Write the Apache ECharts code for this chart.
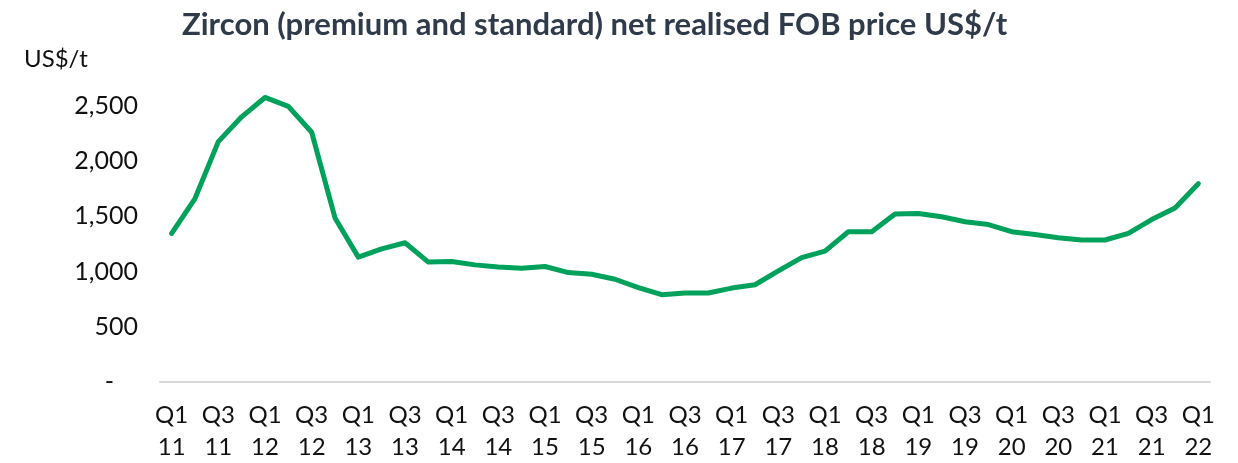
<!DOCTYPE html>
<html>
<head>
<meta charset="UTF-8">
<title>Zircon price</title>
<script src="https://cdn.jsdelivr.net/npm/echarts@6/dist/echarts.min.js"></script>
<style>
  html, body { margin: 0; padding: 0; background: #fff; }
  #main { width: 1238px; height: 463px; }
</style>
</head>
<body>
<div id="main"></div>
<script>
// quarters Q1 2011 .. Q1 2022
var quarters = [
  'Q1 11','Q2 11','Q3 11','Q4 11','Q1 12','Q2 12','Q3 12','Q4 12',
  'Q1 13','Q2 13','Q3 13','Q4 13','Q1 14','Q2 14','Q3 14','Q4 14',
  'Q1 15','Q2 15','Q3 15','Q4 15','Q1 16','Q2 16','Q3 16','Q4 16',
  'Q1 17','Q2 17','Q3 17','Q4 17','Q1 18','Q2 18','Q3 18','Q4 18',
  'Q1 19','Q2 19','Q3 19','Q4 19','Q1 20','Q2 20','Q3 20','Q4 20',
  'Q1 21','Q2 21','Q3 21','Q4 21','Q1 22'
];
// net realised FOB price, US$/t
var price = [
  1345, 1660, 2175, 2400, 2575, 2495, 2260, 1485,
  1130, 1205, 1260, 1085, 1090, 1060, 1040, 1030,
  1045, 990, 975, 930, 855, 790, 805, 805,
  850, 880, 1005, 1125, 1185, 1360, 1360, 1520,
  1525, 1495, 1450, 1425, 1360, 1335, 1305, 1285,
  1285, 1345, 1470, 1575, 1795
];
var yTicks = [0, 500, 1000, 1500, 2000, 2500];

var font = 'Lato, "Open Sans", sans-serif';
var chart = echarts.init(document.getElementById('main'));

chart.setOption({
  animation: false,
  title: [{
    text: 'Zircon (premium and standard) net realised FOB price US$/t',
    left: 177,
    top: 4,
    textStyle: { fontFamily: font, fontSize: 31, fontWeight: 'bold', color: '#2f3b4b' }
  }, {
    text: 'US$/t',
    left: 19,
    top: 42,
    textStyle: { fontFamily: font, fontSize: 24, fontWeight: 'normal', color: '#111' }
  }],
  grid: { left: 160, right: 28, top: 50.5, bottom: 79.5 },
  xAxis: {
    type: 'category',
    data: quarters,
    boundaryGap: true,
    axisLine: { lineStyle: { color: '#d9d9d9', width: 2 } },
    axisTick: { show: false },
    axisLabel: {
      interval: 1,
      margin: 17,
      fontFamily: font,
      fontSize: 24,
      lineHeight: 32,
      color: '#111',
      formatter: function (v) { return v.replace(' ', '\n'); }
    }
  },
  yAxis: {
    type: 'value',
    min: 0,
    max: 3000,
    interval: 500,
    splitLine: { show: false },
    axisLine: { show: false },
    axisTick: { show: false },
    axisLabel: {
      margin: 22,
      fontFamily: font,
      fontSize: 25,
      color: '#111',
      formatter: function (v) {
        if (yTicks.indexOf(v) < 0) return '';
        if (v === 0) return '{d|-}';
        return v.toLocaleString('en-US');
      },
      rich: { d: { fontFamily: font, fontSize: 25, color: '#111', padding: [0, 24, 0, 0] } }
    }
  },
  series: [{
    type: 'line',
    data: price,
    showSymbol: false,
    lineStyle: { color: '#00a15b', width: 5, join: 'round', cap: 'round' }
  }]
});
</script>
</body>
</html>
